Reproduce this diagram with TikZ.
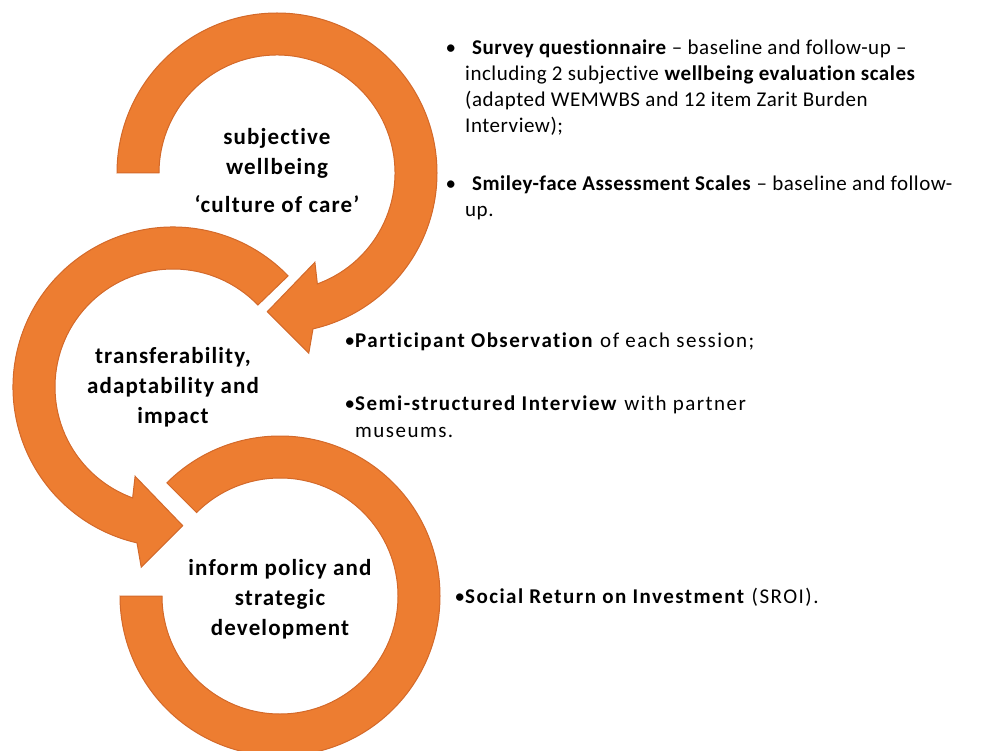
\documentclass[tikz,border=0pt]{standalone}
\usepackage{fontspec}
\setmainfont{Carlito}
\newfontfamily\stagefont[LetterSpace=5,Ligatures=NoCommon]{Carlito}
\newfontfamily\notefont[LetterSpace=2.5,Ligatures=NoCommon]{Carlito}
\newfontfamily\widenotefont[LetterSpace=7,Ligatures=NoCommon]{Carlito}
\usetikzlibrary{calc}
\definecolor{ringorange}{HTML}{ED7D31}
\definecolor{ringedge}{HTML}{D3692A}

\begin{document}
\begin{tikzpicture}
      [%%%%%%%%%%%%%%%%%%%%%%%%%%%%%%
      x=1pt,y=1pt,
      ring/.style={fill=ringorange,draw=ringedge,line width=1pt},
      stage/.style={align=center,inner sep=0pt,font=\stagefont\fontsize{23}{30}\selectfont\bfseries},
      method/.style={align=left,anchor=base west,inner sep=0pt,font=\notefont\fontsize{21}{26}\selectfont},
      widemethod/.style={method,font=\widenotefont\fontsize{21}{27}\selectfont},
      ]%%%%%%%%%%%%%%%%%%%%%%%%%%%%%%

      \clip (0,0) rectangle (1004,-751);

      \coordinate (c1) at (277,-173);
      \coordinate (c2) at (173,-387);
      \coordinate (c3) at (280,-596);

      \filldraw[ring] ($(c1)+(180:160)$) arc[start angle=180,end angle=-77,radius=160]
        -- ($(c1)+(-80:183)$) -- ($(c1)+(-94:139)$) -- ($(c1)+(-67:97)$) -- ($(c1)+(-70:118)$)
        arc[start angle=-70,end angle=180,radius=118] -- cycle;

      \filldraw[ring] ($(c2)+(44:118)$) arc[start angle=44,end angle=250,radius=118]
        -- ($(c2)+(247:97)$) -- ($(c2)+(274:139)$) -- ($(c2)+(260:183)$) -- ($(c2)+(257:160)$)
        arc[start angle=257,end angle=44,radius=160] -- cycle;

      \filldraw[ring] ($(c3)+(135:160)$) arc[start angle=135,end angle=-180,radius=160]
        -- ($(c3)+(180:118)$) arc[start angle=-180,end angle=135,radius=118] -- cycle;

      \node[stage] (wellbeing) at ($(c1)+(0,2)$) {subjective\\wellbeing\\[8pt]‘culture of care’};
      \node[stage] (transfer) at (c2) {transferability,\\adaptability and\\impact};
      \node[stage] (policy) at ($(c3)+(0,-3)$) {inform policy and\\strategic\\development};

      \node[method] (survey) at (465,-133) {\llap{\textbullet\hspace{9pt}}\hspace{7pt}\textbf{Survey questionnaire} – baseline and follow-up –\\including 2 subjective \textbf{wellbeing evaluation scales}\\(adapted WEMWBS and 12 item Zarit Burden\\Interview);};
      \node[method] (smiley) at (465,-217) {\llap{\textbullet\hspace{9pt}}\hspace{7pt}\textbf{Smiley-face Assessment Scales} – baseline and follow-\\up.};
      \node[widemethod] (observe) at (355,-347) {\llap{\textbullet}\textbf{Participant Observation} of each session;};
      \node[widemethod] (interview) at (355,-437) {\llap{\textbullet}\textbf{Semi-structured Interview} with partner\\museums.};
      \node[widemethod] (sroi) at (465,-603) {\llap{\textbullet}\textbf{Social Return on Investment} (SROI).};
\end{tikzpicture}
\end{document}
